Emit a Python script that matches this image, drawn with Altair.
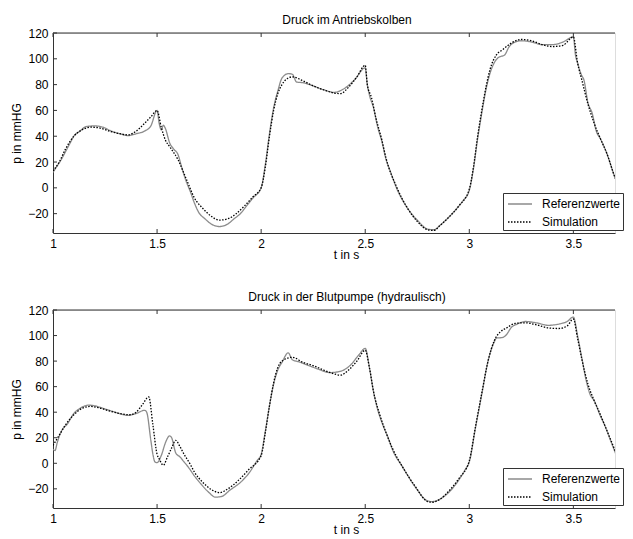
import altair as alt
import pandas as pd

# ---------------- data ----------------
top_ref_t = [1.00, 1.02, 1.04, 1.06, 1.08, 1.10, 1.13, 1.16, 1.20, 1.24, 1.28, 1.32, 1.36, 1.40, 1.44, 1.47, 1.50,
             1.51, 1.52, 1.53, 1.54, 1.56, 1.58, 1.60, 1.62, 1.64, 1.66, 1.68, 1.70, 1.73, 1.76, 1.80, 1.84, 1.87,
             1.90, 1.93, 1.96, 2.00, 2.02, 2.04, 2.06, 2.08, 2.10, 2.13, 2.15, 2.17, 2.20, 2.25, 2.30, 2.35, 2.40,
             2.45, 2.50, 2.51, 2.52, 2.54, 2.56, 2.58, 2.60, 2.62, 2.65, 2.70, 2.75, 2.80, 2.83, 2.86, 2.90, 2.94,
             2.97, 3.00, 3.02, 3.04, 3.06, 3.08, 3.10, 3.12, 3.14, 3.17, 3.19, 3.22, 3.25, 3.30, 3.35, 3.40, 3.45,
             3.50, 3.51, 3.52, 3.54, 3.55, 3.57, 3.59, 3.61, 3.63, 3.66, 3.70, 3.73, 3.76, 3.80]
top_ref_p = [12, 17, 22, 28, 34, 40, 44, 47.5, 48, 47, 44, 42, 40.5, 42, 44, 48, 60,
             50, 45, 48.5, 46, 35, 30, 26, 15, 5, -3, -12, -19, -24, -28, -30, -28, -24,
             -20, -14, -8, 0, 18, 42, 62, 75, 85, 88.5, 88, 82, 81.5, 79, 76, 74, 77,
             84, 93, 80, 72, 62, 47, 36, 22, 13, 0, -15, -25, -32, -32.5, -29, -23, -16,
             -10, -2, 15, 38, 58, 76, 89, 97, 101, 103, 109, 113, 114, 113, 111, 111, 113,
             117, 103, 97, 87, 84, 66, 58, 44, 38, 27, 8, -3, -12, -24]

top_sim_t = [1.00, 1.03, 1.06, 1.10, 1.14, 1.18, 1.22, 1.27, 1.32, 1.36, 1.40, 1.44, 1.47, 1.50, 1.52, 1.54,
             1.56, 1.60, 1.64, 1.68, 1.72, 1.76, 1.80, 1.84, 1.88, 1.92, 1.96, 2.00, 2.02, 2.04, 2.06, 2.08,
             2.10, 2.12, 2.15, 2.20, 2.25, 2.30, 2.35, 2.38, 2.42, 2.46, 2.50, 2.51, 2.53, 2.55, 2.58, 2.60,
             2.65, 2.70, 2.75, 2.80, 2.83, 2.86, 2.90, 2.95, 3.00, 3.02, 3.04, 3.06, 3.08, 3.10, 3.13, 3.16,
             3.20, 3.25, 3.30, 3.35, 3.40, 3.45, 3.50, 3.52, 3.54, 3.57, 3.60, 3.63, 3.66, 3.70, 3.73, 3.76, 3.80]
top_sim_p = [13, 20, 30, 40, 45, 47, 46.5, 44, 42, 41, 44, 50, 55, 60, 47, 37,
             32, 22, 7, -8, -16, -22, -25, -24, -20, -14, -7, 0, 16, 40, 60, 73,
             80, 84, 86, 83, 79, 76, 73.5, 73, 78, 86, 95, 80, 70, 55, 37, 23,
             1, -15, -26, -32.5, -33, -29, -23, -14, -1, 16, 40, 60, 78, 92, 103, 107,
             112, 115, 114, 111, 109.5, 110.5, 117, 97, 84, 65, 50, 38, 27, 8, -3, -12, -24]

bot_ref_t = [1.00, 1.01, 1.02, 1.04, 1.07, 1.10, 1.13, 1.17, 1.20, 1.25, 1.30, 1.36, 1.40, 1.44, 1.45, 1.47,
             1.48, 1.49, 1.50, 1.52, 1.54, 1.56, 1.57, 1.59, 1.61, 1.63, 1.65, 1.68, 1.71, 1.75, 1.78, 1.81,
             1.85, 1.90, 1.94, 1.98, 2.00, 2.02, 2.04, 2.06, 2.08, 2.10, 2.13, 2.15, 2.18, 2.22, 2.27, 2.33,
             2.38, 2.43, 2.47, 2.50, 2.52, 2.54, 2.56, 2.58, 2.61, 2.63, 2.68, 2.74, 2.80, 2.82, 2.86, 2.90,
             2.95, 2.98, 3.00, 3.03, 3.06, 3.09, 3.12, 3.13, 3.16, 3.18, 3.20, 3.23, 3.27, 3.32, 3.38, 3.43,
             3.47, 3.50, 3.52, 3.54, 3.56, 3.58, 3.60, 3.63, 3.65, 3.69, 3.73, 3.76, 3.80]
bot_ref_p = [11, 10, 16, 25, 31, 39, 43, 45.5, 45, 42.5, 40, 37.5, 39, 41.5, 40, 18,
             7, 1, 0.5, 6, 16, 21.5, 20, 8, 5, 1, -3, -10, -16, -23, -26.5, -26,
             -21, -15, -8, 2, 7, 25, 45, 62, 73, 79, 86.5, 81, 79.5, 77, 74, 71,
             72, 77, 85, 90, 75, 56, 42, 32, 20, 11, -3, -18.5, -29.5, -30, -28, -23,
             -13, -5, 1, 28, 54, 80, 95, 98, 98.5, 101, 106, 109, 111, 110, 108, 109,
             111, 114.5, 100, 83, 66, 54, 49, 37, 30, 13, -3, -13, -25]

bot_sim_t = [1.00, 1.03, 1.06, 1.10, 1.14, 1.18, 1.22, 1.27, 1.32, 1.37, 1.40, 1.43, 1.46, 1.48, 1.50, 1.51,
             1.53, 1.55, 1.57, 1.59, 1.61, 1.63, 1.66, 1.68, 1.72, 1.76, 1.80, 1.84, 1.89, 1.94, 2.00, 2.02,
             2.04, 2.06, 2.08, 2.10, 2.15, 2.20, 2.25, 2.30, 2.35, 2.38, 2.42, 2.46, 2.50, 2.52, 2.54, 2.57,
             2.60, 2.63, 2.68, 2.74, 2.80, 2.82, 2.86, 2.90, 2.95, 3.00, 3.03, 3.06, 3.09, 3.12, 3.15, 3.18,
             3.22, 3.27, 3.32, 3.38, 3.43, 3.47, 3.50, 3.52, 3.54, 3.57, 3.60, 3.63, 3.66, 3.70, 3.73, 3.76, 3.80]
bot_sim_p = [14, 22, 30, 38, 43, 44.5, 43.5, 41, 39, 38, 40, 46, 52, 30, 7, 3.5,
             -1.5, 5, 12, 18, 13, 7, -1, -7, -15, -20.5, -23, -20, -13.5, -5, 6, 24,
             45, 63, 75, 80, 83, 79, 76.5, 73, 70, 69, 73, 80, 88.5, 75, 56, 38,
             24, 12, -3, -18, -30, -30.5, -28, -22, -12, 2, 29, 55, 80, 96, 103, 106,
             109.5, 110, 108.5, 106, 105.5, 107.5, 113, 98, 82, 62, 49, 38, 26, 10, -3, -13, -25]

series_names = ["Referenzwerte", "Simulation"]
x_ticks = [1, 1.5, 2, 2.5, 3, 3.5]
y_ticks = [-20, 0, 20, 40, 60, 80, 100, 120]
titles = ["Druck im Antriebskolben", "Druck in der Blutpumpe (hydraulisch)"]

# ---------------- chart ----------------
W = 562
FONT = "Liberation Sans"
AX = "#333333"

xscale = alt.Scale(domain=[1, 3.7], nice=False, zero=False)
yscale = alt.Scale(domain=[-35, 120], nice=False, zero=False)

x_axis = alt.Axis(values=x_ticks, format="~g", title="t in s", tickSize=0, domain=True, domainColor=AX,
                  grid=False, labelPadding=5, titlePadding=0, labelFontSize=12, titleX=293,
                  titleFontSize=12, titleFontWeight="normal", labelColor="black",
                  titleColor="black", labelFont=FONT, titleFont=FONT, labelFlush=False)
y_axis = alt.Axis(values=y_ticks, title="p in mmHG", tickSize=0, domain=True, domainColor=AX, grid=False,
                  labelPadding=5, titlePadding=4, labelFontSize=12, titleFontSize=12,
                  titleFontWeight="normal", labelColor="black", titleColor="black",
                  labelFont=FONT, titleFont=FONT)


def panel(title, rt, rp, st, sp, H):
    df = pd.concat([
        pd.DataFrame({"t": rt, "p": rp, "series": series_names[0]}),
        pd.DataFrame({"t": st, "p": sp, "series": series_names[1]}),
    ], ignore_index=True)
    leg = alt.Legend(title=None, orient="none", legendX=W - 112, legendY=H - 40,
                     symbolType="M-1.5,0H1.5", symbolSize=256, symbolStrokeWidth=1.3, symbolOffset=6,
                     labelFontSize=12, labelColor="black", labelFont=FONT, labelOffset=13,
                     padding=2, rowPadding=3, strokeColor=AX, fillColor="white",
                     labelLimit=300)
    lines = alt.Chart(df).mark_line(clip=True, interpolate="monotone", strokeWidth=1.3).encode(
        x=alt.X("t:Q", scale=xscale, axis=x_axis),
        y=alt.Y("p:Q", scale=yscale, axis=y_axis),
        color=alt.Color("series:N", scale=alt.Scale(domain=series_names, range=["#8c8c8c", "#000000"]),
                        legend=leg),
        strokeDash=alt.StrokeDash("series:N", scale=alt.Scale(domain=series_names, range=[[1, 0], [1.5, 1.5]]),
                                  legend=leg),
        order=alt.Order("t:Q"),
    )
    xt = pd.DataFrame({"t": x_ticks})
    yt = pd.DataFrame({"p": y_ticks})
    border = pd.DataFrame({"p": [120]})
    xb = alt.Chart(xt).mark_rule(color=AX).encode(x=alt.X("t:Q", scale=xscale, axis=x_axis),
                                                 y=alt.value(H), y2=alt.value(H - 4))
    xtp = alt.Chart(xt).mark_rule(color=AX).encode(x=alt.X("t:Q", scale=xscale, axis=x_axis),
                                                  y=alt.value(0), y2=alt.value(4))
    yl = alt.Chart(yt).mark_rule(color=AX).encode(y=alt.Y("p:Q", scale=yscale, axis=y_axis),
                                                 x=alt.value(0), x2=alt.value(4))
    top_border = alt.Chart(border).mark_rule(color=AX).encode(
        y=alt.Y("p:Q", scale=yscale, axis=y_axis), x=alt.value(0), x2=alt.value(W))
    return alt.layer(lines, xb, xtp, yl, top_border).properties(
        width=W, height=H,
        title=alt.TitleParams(title, fontSize=12, fontWeight="normal", font=FONT, color="black",
                              offset=0, anchor="middle", dx=13))


top = panel(titles[0], top_ref_t, top_ref_p, top_sim_t, top_sim_p, 200)
bot = panel(titles[1], bot_ref_t, bot_ref_p, bot_sim_t, bot_sim_p, 198)

chart = alt.vconcat(top, bot, spacing=29).resolve_scale(
    color="independent", strokeDash="independent"
).resolve_legend(color="independent", strokeDash="independent").properties(
    padding={"left": 2, "top": 5, "right": 0, "bottom": 0}
).configure_view(stroke=None).configure(background="white")

chart.save("out.html", embed_options={"renderer": "svg", "actions": False})
